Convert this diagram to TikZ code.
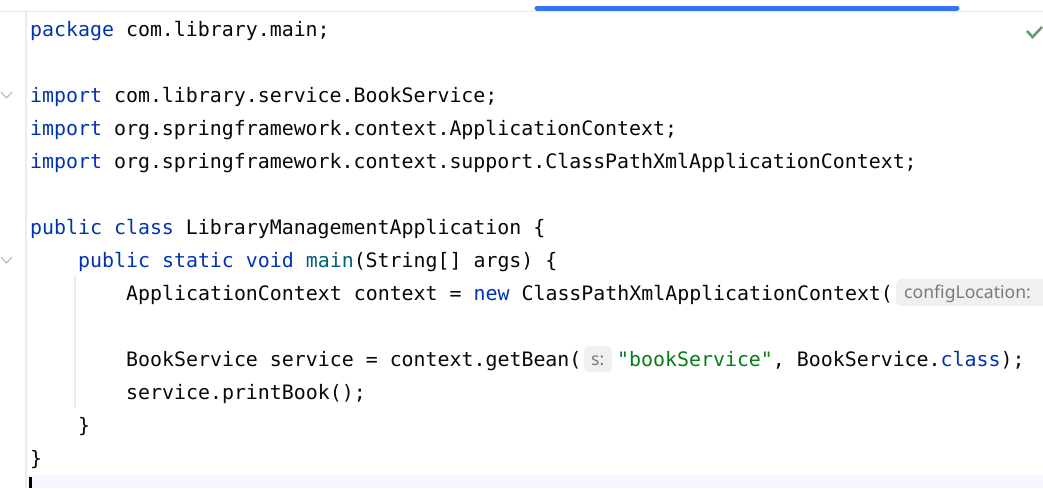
\documentclass[tikz,border=0pt]{standalone}
\usepackage{fontspec}
\newfontfamily\codefont{DejaVu Sans Mono}
\newfontfamily\hintfont{Noto Sans}
\definecolor{kw}{HTML}{0033B3}
\definecolor{decl}{HTML}{00627A}
\definecolor{str}{HTML}{067D17}
\definecolor{txt}{HTML}{080808}
\definecolor{hintbg}{HTML}{F0F0F0}
\definecolor{hinttxt}{HTML}{7A7A7A}
\definecolor{guide}{HTML}{EBECF0}
\definecolor{fold}{HTML}{B4B6BC}
\definecolor{bar}{HTML}{3574F0}
\definecolor{ok}{HTML}{5FA36B}
\definecolor{curline}{HTML}{F5F8FE}
\newcommand{\K}[1]{\textcolor{kw}{#1}}
\begin{document}
\begin{tikzpicture}[x=1pt,y=-1pt,
  codeline/.style={anchor=base west,inner sep=0pt,text=txt,font=\codefont\fontsize{19.9}{24}\selectfont},
  hintbox/.style={fill=hintbg,rounded corners=5pt,inner sep=0pt,anchor=north west},
  hinttext/.style={anchor=base west,inner sep=0pt,text=hinttxt,font=\hintfont\fontsize{17.6}{20}\selectfont},
  foldmark/.style={draw=fold,line width=1pt},
  guideline/.style={draw=guide,line width=1.2pt}]
\useasboundingbox (0,0) rectangle (1043,488);
\fill[white] (0,0) rectangle (1043,488);
% current line highlight
\fill[curline] (27,475) rectangle (1043,488);
% top separator and progress bar
\draw[guideline] (0,11.5) -- (1043,11.5);
\draw[bar,line width=5pt,line cap=round] (537,8) -- (957,8);
% gutter line
\draw[guideline] (26,12) -- (26,488);
% indent guide
\draw[guideline] (75,276) -- (75,408);
% fold chevrons
\draw[foldmark] (1,92) -- (6.5,98) -- (12,92);
\draw[foldmark] (1,257) -- (6.5,263) -- (12,257);
% check mark
\draw[ok,line width=2.6pt] (1027,31) -- (1032.5,37) -- (1042,27);
% cursor
\fill[black] (29,477) rectangle (32,488);
% code lines
\node[codeline] (l1) at (30,36) {\K{package} com.library.main;};
\node[codeline] (l3) at (30,102) {\K{import} com.library.service.BookService;};
\node[codeline] (l4) at (30,135) {\K{import} org.springframework.context.ApplicationContext;};
\node[codeline] (l5) at (30,168) {\K{import} org.springframework.context.support.ClassPathXmlApplicationContext;};
\node[codeline] (l7) at (30,234) {\K{public} \K{class} LibraryManagementApplication \{};
\node[codeline] (l8) at (78,267) {\K{public} \K{static} \K{void} \textcolor{decl}{main}(String[] args) \{};
\node[codeline] (l9) at (126,300) {ApplicationContext context = \K{new} ClassPathXmlApplicationContext(};
\node[hintbox,minimum width=160pt,minimum height=27pt] (h1) at (896,279) {};
\node[hinttext] (h1t) at (904,298.5) {configLocation:};
\node[codeline] (l11a) at (126,366) {BookService service = context.getBean(};
\node[hintbox,minimum width=28pt,minimum height=26pt] (h2) at (584,346) {};
\node[hinttext] (h2t) at (591,365.5) {s:};
\node[codeline] (l11b) at (617,366) {\textcolor{str}{"bookService"}, BookService.\K{class});};
\node[codeline] (l12) at (126,399) {service.printBook();};
\node[codeline] (l13) at (78,432) {\}};
\node[codeline] (l14) at (30,465) {\}};
\end{tikzpicture}
\end{document}
